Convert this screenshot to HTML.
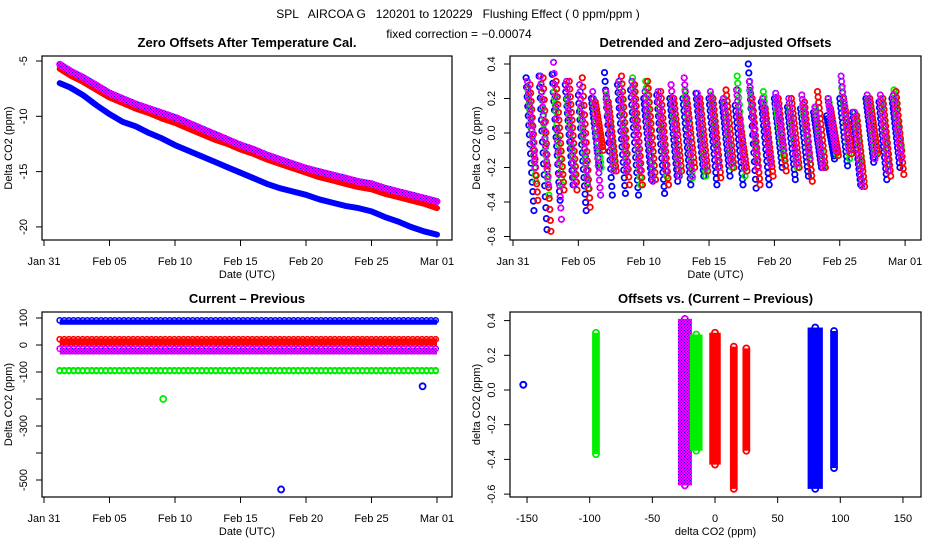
<!DOCTYPE html>
<html><head><meta charset="utf-8"><style>
html,body{margin:0;padding:0;background:#fff}
svg{display:block;font-family:"Liberation Sans",sans-serif}
text{white-space:pre}
</style></head><body>
<svg id="c" width="936" height="540" xmlns="http://www.w3.org/2000/svg">
<defs>
<pattern id="chk" width="3" height="3" patternUnits="userSpaceOnUse">
<rect width="3" height="3" fill="#ff00ff"/><rect width="1" height="1" fill="#0000ff"/><rect x="1.5" y="1.5" width="1" height="1" fill="#0000ff"/>
</pattern>
</defs>
<text x="458" y="18" font-size="12" text-anchor="middle" xml:space="preserve">SPL   AIRCOA G   120201 to 120229   Flushing Effect ( 0 ppm/ppm )</text>
<text x="459" y="38" font-size="12" text-anchor="middle">fixed correction = −0.00074</text>
<g id="g"></g>
</svg>
<script>
// ---------- data ----------
const days = [1.2,2,3,4,5,6,7,8,9,10,11,12,13,14,15,16,17,18,19,20,21,22,23,24,25,26,27,28,29,30];
const zeroPurple = [-5.3,-5.9,-6.5,-7.2,-7.9,-8.4,-8.9,-9.3,-9.7,-10.1,-10.6,-11.1,-11.6,-12.1,-12.6,-13.0,-13.5,-13.9,-14.3,-14.7,-15.0,-15.3,-15.6,-15.9,-16.1,-16.5,-16.8,-17.1,-17.4,-17.7];
const zeroRed = [-5.7,-6.3,-6.9,-7.6,-8.3,-8.8,-9.3,-9.7,-10.2,-10.6,-11.1,-11.6,-12.1,-12.5,-13.0,-13.4,-13.9,-14.3,-14.7,-15.1,-15.5,-15.8,-16.1,-16.4,-16.6,-17.0,-17.3,-17.6,-17.9,-18.3];
const zeroBlue = [-7.0,-7.4,-8.1,-9.0,-9.8,-10.5,-10.9,-11.5,-12.0,-12.6,-13.1,-13.6,-14.1,-14.6,-15.1,-15.6,-16.1,-16.5,-16.8,-17.1,-17.5,-17.8,-18.1,-18.3,-18.6,-19.1,-19.5,-20.0,-20.4,-20.7];

const detDays = [1,2,3,4,5,6,7,8,9,10,11,12,13,14,15,16,17,18,19,20,21,22,23,24,25,26,27,28,29];
const detBlueHi = [0.32,0.33,0.34,0.28,0.22,0.2,0.35,0.28,0.25,0.2,0.22,0.2,0.2,0.23,0.2,0.18,0.16,0.4,0.18,0.2,0.15,0.14,0.12,0.1,0.2,0.12,0.2,0.18,0.2];
const detBlueLo = [-0.45,-0.56,-0.39,-0.3,-0.45,-0.2,-0.36,-0.35,-0.36,-0.27,-0.35,-0.28,-0.3,-0.25,-0.3,-0.25,-0.3,-0.32,-0.3,-0.2,-0.27,-0.25,-0.2,-0.15,-0.19,-0.3,-0.17,-0.27,-0.2];
const detGreenHi = [0.25,0.28,0.24,0.2,0.15,0.2,0.22,0.3,0.32,0.3,0.18,0.2,0.25,0.2,0.22,0.2,0.33,0.24,0.24,0.15,0.15,0.15,0.14,0.2,0.26,0.12,0.2,0.2,0.25];
const detGreenLo = [-0.28,-0.36,-0.3,-0.28,-0.32,-0.2,-0.2,-0.2,-0.3,-0.25,-0.25,-0.25,-0.26,-0.25,-0.2,-0.2,-0.25,-0.2,-0.18,-0.15,-0.2,-0.18,-0.2,-0.12,-0.15,-0.2,-0.12,-0.18,-0.1];
const detRedHi = [0.28,0.32,0.3,0.3,0.32,0.18,0.18,0.33,0.28,0.3,0.24,0.2,0.2,0.2,0.2,0.25,0.1,0.2,0.14,0.2,0.2,0.18,0.24,0.14,0.2,0.1,0.2,0.2,0.24];
const detRedLo = [-0.39,-0.57,-0.33,-0.33,-0.43,-0.1,-0.22,-0.3,-0.3,-0.27,-0.3,-0.22,-0.2,-0.22,-0.26,-0.2,-0.22,-0.3,-0.25,-0.22,-0.2,-0.28,-0.2,-0.13,-0.12,-0.31,-0.12,-0.25,-0.24];
const detPurpleHi = [0.3,0.33,0.41,0.3,0.28,0.24,0.24,0.3,0.3,0.24,0.24,0.28,0.32,0.23,0.24,0.2,0.25,0.3,0.2,0.23,0.2,0.22,0.15,0.2,0.33,0.12,0.22,0.22,0.22];
const detPurpleLo = [-0.2,-0.3,-0.5,-0.3,-0.3,-0.36,-0.22,-0.22,-0.22,-0.28,-0.22,-0.25,-0.25,-0.2,-0.2,-0.18,-0.2,-0.2,-0.18,-0.1,-0.18,-0.15,-0.2,-0.1,-0.1,-0.31,-0.15,-0.22,-0.15];

const cpBands = [{name:'purple',lo:-35,hi:-10},{name:'red',lo:-2,hi:25},{name:'blue',lo:75,hi:95},{name:'green',lo:-100,hi:-90}];
const cpOutlierDay = [9.1,18.1,28.9];
const cpOutlierVal = [-200,-535,-153];
const cpOutlierColor = ['#00ee00','#0000ff','#0000ff'];

const clX = [-95,-24,-15,0,15,25,80,95,-153];
const clLo = [-0.37,-0.55,-0.35,-0.43,-0.57,-0.35,-0.57,-0.45,0.03];
const clHi = [0.33,0.41,0.32,0.33,0.25,0.24,0.36,0.34,0.03];
const clSpread = [3,8,7,6,3,3,9,3,0];
const clColor = ['#00ee00','purple','#00ee00','#ff0000','#ff0000','#ff0000','#0000ff','#0000ff','#0000ff'];

// ---------- helpers ----------
const NS='http://www.w3.org/2000/svg';
const G=document.getElementById('g');
function el(tag,attrs,parent,txt){const e=document.createElementNS(NS,tag);for(const k in attrs)e.setAttribute(k,attrs[k]);if(txt!==undefined)e.textContent=txt;(parent||G).appendChild(e);return e;}
function col(c){return c==='purple'?'url(#chk)':c;}

function panel(name,box,title,xt,xlabels,xtitle,yt,ylabels,ytitle,xs,ys){
  const g=el('g',{});
  
  
  const t=el('text',{x:(box[0]+box[2])/2,y:box[1]-9,'font-size':13,'font-weight':'bold','text-anchor':'middle'},g,title);
  
  
  const ax=el('g',{stroke:'#000','stroke-width':1},g);
  
  
  el('line',{x1:xs(xt[0]),x2:xs(xt[xt.length-1]),y1:box[3],y2:box[3]},ax);
  xt.forEach((v,i)=>{const x=xs(v);el('line',{x1:x,x2:x,y1:box[3],y2:box[3]+6},ax);
    const l=el('text',{x:x,y:box[3]+25,'font-size':11,'text-anchor':'middle',stroke:'none'},g,xlabels[i]);
    
    });
  el('line',{x1:box[0],x2:box[0],y1:ys(yt[0]),y2:ys(yt[yt.length-1])},ax);
  yt.forEach((v,i)=>{const y=ys(v);el('line',{x1:box[0]-6,x2:box[0],y1:y,y2:y},ax);
    if(ylabels[i]!==''){const l=el('text',{x:0,y:0,'font-size':11,'text-anchor':'middle',transform:`translate(${box[0]-15},${y}) rotate(-90)`},g,ylabels[i]);
    
    }});
  const xtl=el('text',{x:(box[0]+box[2])/2,y:box[3]+38,'font-size':11,'text-anchor':'middle'},g,xtitle);
  
  
  const ytl=el('text',{x:0,y:0,'font-size':11,'text-anchor':'middle',transform:`translate(${box[0]-30},${(box[1]+box[3])/2}) rotate(-90)`},g,ytitle);
  
  
  const plot=el('g',{},g);
  
  
  const fr=el('rect',{x:box[0],y:box[1],width:box[2]-box[0],height:box[3]-box[1],fill:'none',stroke:'#000','stroke-width':1.2},g);
  
  
  return plot;
}
const dateTicks=[0,5,10,15,20,25,30];
const dateLabels=['Jan 31','Feb 05','Feb 10','Feb 15','Feb 20','Feb 25','Mar 01'];

// ---------- panel 1 ----------
const x1=d=>44+d*13.1, y1=v=>61+(-5-v)*11.06;
const p1=panel('zero-offsets-panel',[42,56,452,240],'Zero Offsets After Temperature Cal.',dateTicks,dateLabels,'Date (UTC)',[-5,-10,-15,-20],['-5','-10','-15','-20'],'Delta CO2 (ppm)',x1,y1);
[[zeroBlue,'#0000ff',6,'blue'],[zeroRed,'#ff0000',6,'red'],[zeroPurple,'purple',7,'purple']].forEach(([arr,c,w,n])=>{
  const pts=days.map((d,i)=>x1(d).toFixed(1)+','+y1(arr[i]).toFixed(1)).join(' ');
  const pl=el('polyline',{points:pts,fill:'none',stroke:col(c),'stroke-width':w,'stroke-linejoin':'round','stroke-linecap':'round'},p1);
  
  
});

// ---------- panel 2 ----------
const x2=d=>513+d*13.07, y2=v=>133-v*172.5;
const p2=panel('detrended-panel',[510,56,921,240],'Detrended and Zero\u2013adjusted Offsets',dateTicks,dateLabels,'Date (UTC)',[0.4,0.2,0,-0.2,-0.4,-0.6],['0.4','0.2','0.0','-0.2','-0.4','-0.6'],'Delta CO2 (ppm)',x2,y2);
[[detBlueHi,detBlueLo,'#0000ff',0.0,'blue'],[detGreenHi,detGreenLo,'#00ee00',0.15,'green'],[detRedHi,detRedLo,'#ff0000',0.3,'red'],[detPurpleHi,detPurpleLo,'purple',0.1,'purple']].forEach(([hi,lo,c,ph,n])=>{
  const sg=el('g',{fill:'none',stroke:col(c),'stroke-width':1.8},p2);
  
  
  detDays.forEach((d,i)=>{
    const xa=x2(d+ph), xb=x2(d+ph+0.6), ya=y2(hi[i]), yb=y2(lo[i]);
    const n2=14;
    for(let k=0;k<=n2;k++){const t=k/n2;
      const cc=el('circle',{cx:(xa+(xb-xa)*t).toFixed(1),cy:(ya+(yb-ya)*t).toFixed(1),r:2.7},sg);
      
      }
  });
});

// ---------- panel 3 ----------
const x3=x1, y3=v=>345-v*0.27;
const p3=panel('current-previous-panel',[42,312,452,497],'Current \u2013 Previous',dateTicks,dateLabels,'Date (UTC)',[100,0,-100,-200,-300,-400,-500],['100','0','-100','','-300','','-500'],'Delta CO2 (ppm)',x3,y3);
cpBands.forEach(b=>{
  const c={purple:'purple',red:'#ff0000',blue:'#0000ff',green:'#00ee00'}[b.name];
  const bg=el('g',{},p3);
  
  
  if(b.name!=='green') el('rect',{x:x3(1.2),y:y3(b.hi),width:x3(30)-x3(1.2),height:y3(b.lo)-y3(b.hi),fill:col(c)},bg);
  for(let d=1.2;d<=30;d+=0.35){
    el('circle',{cx:x3(d),cy:y3(b.hi)+1,r:2.6,fill:'none',stroke:col(c),'stroke-width':1.6},bg);
    if(b.name==='green') el('circle',{cx:x3(d),cy:y3(b.lo)-1,r:2.6,fill:'none',stroke:col(c),'stroke-width':1.6},bg);
  }
});
cpOutlierDay.forEach((d,i)=>{
  const o=el('circle',{cx:x3(d),cy:y3(cpOutlierVal[i]),r:3,fill:'none',stroke:cpOutlierColor[i],'stroke-width':1.8},p3);
  
  
});

// ---------- panel 4 ----------
const x4=v=>715+v*1.253, y4=v=>390-v*173.5;
const p4=panel('offsets-vs-difference-panel',[510,312,921,497],'Offsets vs. (Current \u2013 Previous)',[-150,-100,-50,0,50,100,150],['-150','-100','-50','0','50','100','150'],'delta CO2 (ppm)',[0.4,0.2,0,-0.2,-0.4,-0.6],['0.4','0.2','0.0','-0.2','-0.4','-0.6'],'delta CO2 (ppm)',x4,y4);
clX.forEach((cx,i)=>{
  const c=col(clColor[i]);
  const cg=el('g',{},p4);
  
  
  const w=clSpread[i]*1.253;
  if(clHi[i]>clLo[i]){
    el('rect',{x:x4(cx)-w/2-2,y:y4(clHi[i]),width:w+4,height:y4(clLo[i])-y4(clHi[i]),fill:c},cg);
  }
  el('circle',{cx:x4(cx),cy:y4(clHi[i]),r:3,fill:'none',stroke:c,'stroke-width':1.8},cg);
  el('circle',{cx:x4(cx),cy:y4(clLo[i]),r:3,fill:'none',stroke:c,'stroke-width':1.8},cg);
});
</script>
</body></html>
